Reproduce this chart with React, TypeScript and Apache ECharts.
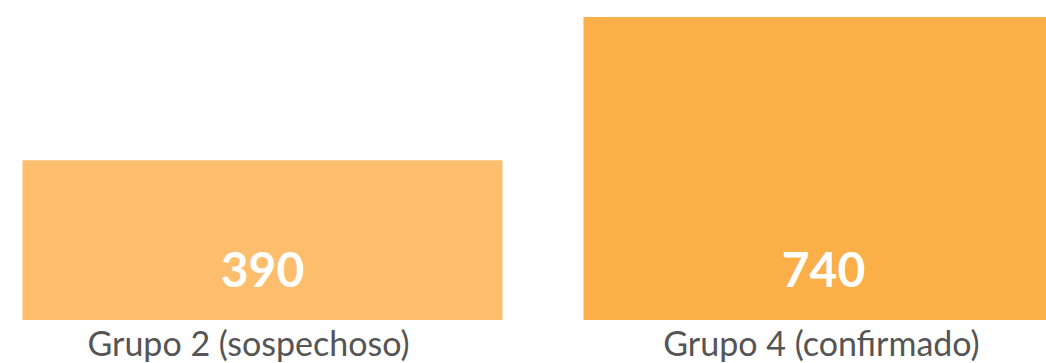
import React, { useEffect, useRef } from "react";
import * as echarts from "echarts";

const categories = ["Grupo 2 (sospechoso)", "Grupo 4 (confirmado)"];
const values = [390, 740];
const colors = ["#FCBE6C", "#FBAF49"];

export default function App() {
  const ref = useRef<HTMLDivElement>(null);
  useEffect(() => {
    if (!ref.current) return;
    const chart = echarts.init(ref.current, null, { renderer: "svg" });
    chart.setOption({
      animation: false,
      grid: { left: 0, right: 0, top: 17, bottom: 43 },
      xAxis: {
        type: "category",
        data: categories.map((c, i) => ({
          value: c,
          textStyle: i === 0 ? { padding: [0, 28, 0, 0] } : { padding: [0, 4, 0, 0] },
        })),
        axisLine: { show: false },
        axisTick: { show: false },
        axisLabel: {
          fontFamily: "Lato",
          fontSize: 34,
          color: "#555555",
          margin: 5,
          interval: 0,
        },
      },
      yAxis: {
        type: "value",
        min: 0,
        max: 740,
        show: false,
        splitLine: { show: false },
      },
      series: [
        {
          type: "bar",
          barWidth: 480,
          data: values.map((v, i) => ({ value: v, itemStyle: { color: colors[i] } })),
          label: {
            show: true,
            position: "insideBottom",
            distance: 28,
            color: "#ffffff",
            fontFamily: "Lato",
            fontWeight: "bold",
            fontSize: 48,
          },
        },
      ],
    });
    return () => chart.dispose();
  }, []);
  return (
    <div
      style={{ position: "absolute", left: 0, top: 0, width: 1046, height: 363, overflow: "hidden" }}
    >
      <div
        ref={ref}
        style={{ position: "absolute", left: -18.5, top: 0, width: 1122, height: 363 }}
      />
    </div>
  );
}
